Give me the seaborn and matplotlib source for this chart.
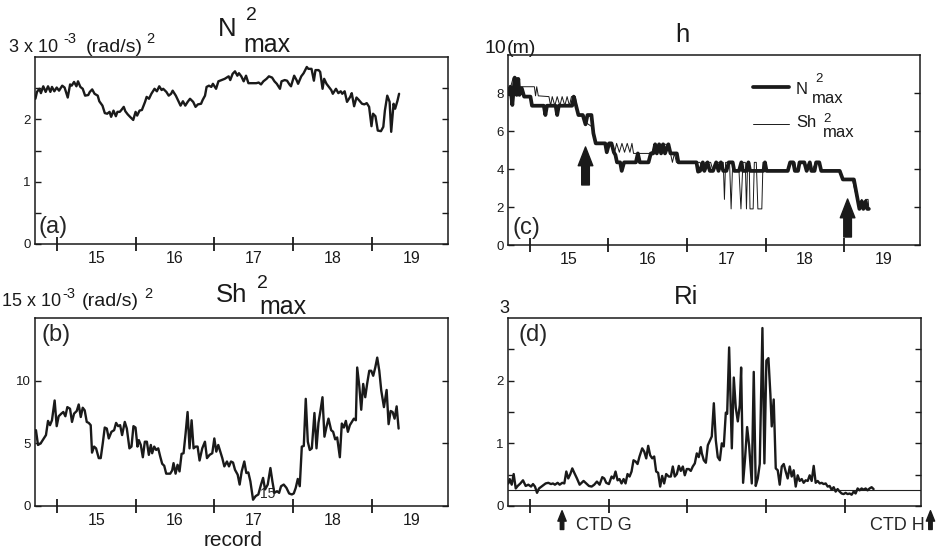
import numpy as np
import pandas as pd
import matplotlib
matplotlib.use("Agg")
import matplotlib.pyplot as plt
import seaborn as sns

sns.set_theme(style="ticks")
plt.rcParams['font.family'] = ['Liberation Sans', 'DejaVu Sans']

# ---------------- data (record axis: label "15" sits at 15, day ticks at x.5) -------------
N2_X = [14.23,14.25,14.28,14.30,14.33,14.36,14.39,14.42,14.44,14.47,14.50,14.53,14.57,14.60,14.64,14.67,14.69,14.72,14.75,14.77,
        14.80,14.83,14.86,14.90,14.92,14.95,14.98,15.02,15.04,15.08,15.11,15.14,15.17,15.19,15.22,15.25,15.27,15.30,15.32,15.35,
        15.37,15.40,15.43,15.47,15.50,15.52,15.55,15.58,15.62,15.64,15.67,15.70,15.74,15.77,15.80,15.83,15.85,15.89,15.92,15.95,
        15.97,16.01,16.04,16.07,16.10,16.13,16.16,16.19,16.23,16.26,16.29,16.33,16.35,16.38,16.40,16.43,16.46,16.48,16.52,16.55,
        16.59,16.63,
        16.68,16.70,16.73,16.76,16.79,16.81,16.84,16.87,16.90,16.93,16.96,16.99,17.03,17.06,17.09,17.12,17.16,17.19,17.23,17.26,
        17.29,17.33,17.35,17.39,17.42,17.45,17.47,17.51,17.54,17.56,17.60,17.63,17.67,17.69,17.73,17.76,17.78,17.82,17.84,17.87,
        17.89,17.92,17.95,17.98,18.00,18.04,18.07,18.10,18.12,18.15,18.18,18.22,18.24,18.27,18.30,18.33,18.37,18.40,18.43,18.46,
        18.49,18.51,18.54,18.57,18.61,18.64,18.66,18.69,18.72,18.74,18.77,18.79,18.82,18.84]
N2_V = [2.33,2.44,2.49,2.42,2.53,2.44,2.53,2.44,2.52,2.45,2.51,2.46,2.54,2.51,2.35,2.56,2.54,2.60,2.53,2.61,
        2.52,2.49,2.38,2.39,2.44,2.48,2.41,2.38,2.29,2.22,2.10,2.09,2.12,2.04,2.14,2.05,2.12,2.12,2.15,2.20,
        2.13,2.08,2.04,1.99,2.12,2.06,2.14,2.15,2.28,2.36,2.33,2.41,2.49,2.45,2.53,2.47,2.49,2.44,2.38,2.41,
        2.46,2.38,2.30,2.22,2.29,2.22,2.28,2.33,2.28,2.20,2.24,2.25,2.31,2.38,2.52,2.54,2.52,2.57,2.49,2.61,
        2.63,2.65,
        2.69,2.63,2.73,2.77,2.70,2.74,2.69,2.61,2.70,2.58,2.58,2.58,2.58,2.59,2.56,2.61,2.65,2.69,2.67,2.61,
        2.57,2.49,2.61,2.63,2.62,2.56,2.53,2.70,2.63,2.57,2.69,2.74,2.84,2.81,2.81,2.62,2.79,2.79,2.76,2.49,
        2.65,2.57,2.52,2.47,2.41,2.49,2.42,2.45,2.41,2.45,2.28,2.36,2.42,2.21,2.35,2.31,2.25,2.24,2.26,2.20,
        1.89,2.09,2.05,1.82,1.81,1.88,2.14,2.38,2.28,1.80,2.25,2.17,2.30,2.41]

SH2_X = [14.220,14.237,14.263,14.297,14.330,14.364,14.390,14.415,14.440,14.474,14.500,14.525,14.559,14.584,14.610,14.635,14.669,14.694,14.720,14.754,
         14.779,14.805,14.830,14.855,14.881,14.906,14.931,14.948,14.974,14.999,15.033,15.058,15.084,15.109,15.135,15.160,15.194,15.228,15.253,15.279,
         15.304,15.329,15.363,15.389,15.422,15.448,15.473,15.499,15.524,15.541,15.566,15.592,15.617,15.643,15.668,15.693,15.710,15.736,15.761,15.787,
         15.812,15.837,15.863,15.888,15.914,15.939,15.964,15.981,16.007,16.032,16.057,16.083,16.108,16.134,16.159,16.184,16.210,16.235,16.261,16.286,
         16.311,16.345,16.379,16.405,16.438,16.472,16.498,16.523,16.548,16.574,16.599,16.625,
         16.658,16.684,16.709,16.735,16.760,16.794,16.819,16.845,16.878,16.904,16.929,16.955,16.989,17.022,17.056,17.090,17.116,17.141,17.175,17.209,
         17.234,17.259,17.293,17.319,17.344,17.378,17.412,17.446,17.480,17.505,17.530,17.556,17.581,17.607,17.632,17.657,17.683,17.708,17.734,17.767,
         17.793,17.818,17.844,17.869,17.894,17.920,17.945,17.979,18.004,18.030,18.055,18.089,18.114,18.140,18.165,18.191,18.216,18.241,18.267,18.292,
         18.309,18.335,18.360,18.385,18.411,18.436,18.462,18.487,18.512,18.538,18.563,18.589,18.614,18.648,18.682,18.707,18.733,18.758,18.783,18.809,
         18.834]
SH2_V = [5.92,6.05,4.87,5.0,5.32,5.66,6.79,6.45,6.84,8.42,6.37,7.16,7.37,7.5,7.16,7.89,7.76,6.71,7.37,7.58,
         8.1,7.1,7.84,7.63,6.71,6.63,6.45,4.26,4.74,4.6,3.82,3.82,5.0,6.26,6.18,5.39,5.92,6.05,6.63,6.37,
         6.45,5.66,6.71,6.18,4.6,4.74,6.37,6.26,4.74,5.26,4.87,3.89,5.13,5.13,4.08,4.87,4.21,4.74,4.47,4.6,
         3.95,3.37,3.21,2.58,2.58,2.58,2.84,3.42,2.58,3.29,2.76,4.16,4.21,5.79,7.5,4.6,6.84,4.6,4.74,4.74,
         3.63,4.6,5.13,3.82,4.08,4.21,5.39,4.34,4.87,4.34,3.82,3.16,
         3.55,3.16,3.55,3.47,2.89,2.5,1.71,2.76,3.55,2.63,2.68,1.97,0.5,0.79,0.92,1.71,2.24,1.32,1.71,3.03,
         1.97,1.05,1.18,1.05,1.58,1.71,1.45,1.0,0.92,1.0,1.45,2.16,1.58,4.74,4.79,8.55,5.13,4.47,4.6,7.42,
         4.6,6.63,7.63,8.68,5.53,6.32,6.97,6.05,5.92,5.32,5.47,3.89,6.58,6.26,6.79,5.92,6.45,6.71,6.97,6.84,
         11.05,9.61,7.68,9.74,8.68,9.79,10.79,10.79,10.39,11.05,11.84,10.79,9.21,7.89,9.26,6.53,7.58,7.5,6.97,7.95,
         6.18]

H_N_X = [14.24,14.255,14.28,14.30,14.31,14.335,14.356,14.37,14.40,14.43,14.51,14.53,14.68,14.70,14.72,14.83,14.85,14.87,15.04,15.06,
         15.09,15.12,15.175,15.21,15.235,15.285,15.31,15.34,15.46,15.48,15.51,15.54,15.57,15.59,15.61,15.65,15.67,15.70,15.85,15.875,
         15.90,16.01,16.04,16.07,16.095,16.116,16.145,16.17,16.196,16.22,16.263,16.29,16.37,16.39,16.62,16.64,16.665,16.70,16.72,16.76,
         16.79,16.83,16.87,16.90,16.93,16.96,17.00,17.03,17.08,17.10,17.16,17.19,17.21,17.255,17.28,17.30,17.47,17.49,17.51,17.78,
         17.81,17.85,17.87,17.91,17.93,17.99,18.02,18.06,18.08,18.12,18.14,18.18,18.205,18.44,18.48,18.62,18.69,18.72,18.74,18.77,
         18.79,18.81]
H_N_V = [7.93,8.33,7.37,8.33,8.81,7.9,8.74,7.9,8.25,7.81,7.81,7.33,7.33,6.84,7.33,7.33,6.84,7.33,7.33,7.81,
         7.33,6.84,6.84,6.35,6.84,6.84,5.88,5.35,5.35,4.88,5.35,5.35,4.88,4.74,4.35,4.35,3.9,4.35,4.35,4.82,
         4.35,4.35,4.82,4.82,5.3,4.82,5.3,4.82,5.3,4.82,5.3,4.82,4.82,4.35,4.35,3.86,3.9,4.35,3.9,4.35,
         3.9,3.9,4.35,3.9,4.35,3.9,3.9,4.35,4.35,3.9,3.9,4.35,3.9,3.9,4.35,3.9,3.9,4.35,3.9,3.9,
         4.35,4.35,3.9,3.9,4.35,4.35,3.9,4.35,3.9,3.9,4.35,4.35,3.9,3.9,3.45,3.45,1.9,2.3,1.9,2.3,
         1.9,1.9]

H_S_X = [14.24,14.26,14.29,14.35,14.37,14.56,14.575,14.59,14.61,14.745,14.766,14.787,14.82,14.85,14.884,14.913,14.947,14.976,15.006,15.031,
         15.082,15.116,15.188,15.23,15.30,15.335,15.546,15.58,15.605,15.64,15.673,15.706,15.74,15.774,15.80,15.82,16.05,16.095,16.116,16.145,
         16.22,16.263,16.29,16.314,16.34,16.365,16.665,16.70,16.73,16.80,16.83,16.87,16.96,16.975,16.99,17.04,17.06,17.08,17.10,17.16,
         17.185,17.21,17.24,17.255,17.27,17.29,17.30,17.34,17.355,17.38,17.40,17.45,17.465,17.49,17.51,17.78,17.81,17.87,17.89,17.93,
         18.00,18.02,18.06,18.08,18.14,18.18,18.205,18.44,18.48,18.60,18.66,18.69,18.72,18.745,18.77,18.80,18.81]
H_S_V = [7.93,8.33,8.8,8.8,8.33,8.33,7.85,8.33,7.85,7.81,7.33,7.81,7.33,7.81,7.33,7.81,7.33,7.81,7.33,7.81,
         7.81,6.84,6.84,6.4,6.2,5.35,5.35,4.88,5.35,4.88,5.35,4.88,5.35,4.88,5.35,4.82,4.82,5.3,4.82,5.3,
         5.3,5.3,4.82,4.35,4.82,4.35,4.35,3.9,4.35,4.35,3.9,4.35,4.35,2.4,4.35,4.35,1.9,4.35,3.9,3.9,
         1.9,4.35,4.35,1.9,4.35,4.35,1.9,1.9,4.35,4.35,1.9,1.9,4.35,4.35,3.9,3.9,4.35,4.35,3.9,4.35,
         4.35,3.9,4.35,3.9,4.35,4.35,3.9,3.9,3.45,3.45,2.4,1.9,2.4,1.9,2.4,2.4,1.9]

RI_X = [14.230,14.247,14.272,14.297,14.323,14.348,14.382,14.415,14.449,14.483,14.517,14.542,14.567,14.593,14.618,14.660,14.702,14.736,14.770,14.795,
        14.820,14.854,14.880,14.913,14.939,14.964,14.989,15.015,15.040,15.065,15.099,15.133,15.158,15.183,15.217,15.251,15.285,15.318,15.352,15.386,
        15.420,15.445,15.470,15.504,15.538,15.563,15.588,15.614,15.639,15.664,15.690,15.715,15.740,15.766,15.791,15.816,15.842,15.867,15.892,15.926,
        15.951,15.977,16.002,16.027,16.053,16.078,16.103,16.128,16.154,16.179,16.204,16.230,16.263,16.289,16.314,16.339,16.365,16.390,16.415,16.441,
        16.466,16.491,16.517,16.542,16.567,16.593,16.618,16.643,16.669,
        16.682,16.707,16.733,16.758,16.783,16.808,16.834,16.859,16.884,16.910,16.935,16.960,16.986,17.003,17.028,17.062,17.087,17.112,17.138,17.163,
        17.180,17.205,17.230,17.256,17.281,17.315,17.340,17.365,17.391,17.416,17.450,17.475,17.500,17.526,17.551,17.568,17.593,17.619,17.644,17.669,
        17.695,17.720,17.745,17.770,17.796,17.821,17.846,17.872,17.897,17.922,17.948,17.973,17.998,18.024,18.049,18.074,18.100,18.125,18.150,18.176,
        18.201,18.226,18.252,18.277,18.302,18.327,18.353,18.378,18.403,18.429,18.454,18.479,18.505,18.530,18.555,18.581,18.606,18.631,18.657,18.682,
        18.707,18.733,18.758,18.783,18.808,18.834,18.859]
RI_V = [0.36,0.43,0.34,0.51,0.28,0.32,0.36,0.41,0.32,0.34,0.31,0.35,0.31,0.21,0.28,0.32,0.36,0.37,0.35,0.36,
        0.34,0.37,0.34,0.37,0.36,0.55,0.44,0.51,0.60,0.53,0.44,0.34,0.37,0.40,0.36,0.32,0.31,0.34,0.39,0.34,
        0.46,0.44,0.37,0.35,0.47,0.44,0.55,0.41,0.43,0.36,0.43,0.36,0.51,0.47,0.55,0.73,0.71,0.67,0.79,0.92,
        0.87,0.76,0.96,0.81,0.76,0.79,0.55,0.53,0.31,0.48,0.36,0.51,0.47,0.47,0.63,0.47,0.51,0.64,0.56,0.63,
        0.49,0.59,0.59,0.56,0.63,0.68,0.84,0.78,0.94,
        0.84,0.73,0.69,0.97,1.04,1.11,1.64,1.05,0.78,0.73,1.0,0.95,1.49,1.47,2.53,0.92,2.05,1.57,1.35,1.61,
        2.21,0.37,0.76,1.26,0.97,0.36,2.14,0.32,0.44,0.67,2.84,0.68,2.32,2.36,1.78,1.27,1.70,0.60,0.57,0.34,
        0.63,0.67,0.55,0.44,0.63,0.47,0.57,0.31,0.49,0.40,0.43,0.37,0.41,0.40,0.49,0.40,0.64,0.37,0.40,0.36,
        0.37,0.35,0.36,0.31,0.32,0.26,0.30,0.23,0.27,0.23,0.20,0.19,0.21,0.19,0.20,0.18,0.23,0.20,0.28,0.25,
        0.28,0.26,0.28,0.25,0.28,0.30,0.27]

RI_CRIT = 0.25
DAY_LABELS = [15, 16, 17, 18, 19]
DAY_TICKS = [14.5, 15.5, 16.5, 17.5, 18.5]
H_ARROWS_X = [15.21, 18.54]
H_ARROWS_Y = [(3.16, 5.16), (0.42, 2.42)]
CTD = [("CTD G", 14.91), ("CTD H", 19.58)]

# ---------------- layout helpers ----------------
W, H = 936, 551
fig = plt.figure(figsize=(W / 100, H / 100), dpi=100)


def add_ax(l, t, r, b):
    return fig.add_axes([l / W, 1 - b / H, (r - l) / W, (b - t) / H])


def ftxt(x, y, s, size, **kw):
    kw.setdefault('ha', 'left')
    kw.setdefault('va', 'baseline')
    fig.text(x / W, 1 - y / H, s, fontsize=size, color='k', **kw)


XLIM = (14.225, 19.46)


def style(ax, ylim, yticks, ylabels, xlabels=True):
    ax.set_xlim(*XLIM)
    ax.set_ylim(*ylim)
    for s in ax.spines.values():
        s.set_visible(True)
        s.set_linewidth(1.1)
        s.set_color('k')
    ax.set_xticks(DAY_TICKS)
    ax.set_xticklabels([])
    ax.set_xticks(DAY_LABELS, minor=True)
    ax.set_xticklabels([str(d) for d in DAY_LABELS] if xlabels else [], minor=True)
    ax.tick_params(axis='x', which='major', direction='inout', length=10, width=1.3,
                   bottom=True, top=False, colors='k')
    ax.tick_params(axis='x', which='minor', length=0, pad=5, labelsize=11.5, labelcolor='k')
    ax.set_yticks(yticks)
    ax.set_yticklabels(ylabels)
    ax.tick_params(axis='y', which='major', direction='in', length=4, width=1.0,
                   left=True, right=True, labelsize=9.5, pad=3, colors='k')
    ax.set_xlabel('')
    ax.set_ylabel('')
    ax.grid(False)
    ax.set_facecolor('white')


def draw(ax, x, y, lw):
    df = pd.DataFrame({'x': x, 'y': y})
    sns.lineplot(data=df, x='x', y='y', ax=ax, color='k', lw=lw,
                 estimator=None, sort=False, legend=False, zorder=3)


# ---------------- (a) N2max ----------------
axa = add_ax(35, 57, 448, 244)
draw(axa, N2_X, N2_V, 1.7)
style(axa, (0, 3), [0, 0.5, 1, 1.5, 2, 2.5], ['0', '', '1', '', '2', ''])
axa.text(0.008, 0.03, '(a)', transform=axa.transAxes, fontsize=17, ha='left', va='bottom')

# ---------------- (b) Sh2max ----------------
axb = add_ax(35, 318, 448, 506)
draw(axb, SH2_X, SH2_V, 1.7)
style(axb, (0, 15), [0, 5, 10], ['0', '5', '10'])
axb.text(0.015, 0.97, '(b)', transform=axb.transAxes, fontsize=17, ha='left', va='top')
axb.text(17.18, 0.95, '15', fontsize=10, ha='center', va='center', zorder=1)

# ---------------- (c) h ----------------
axc = add_ax(508, 55, 920, 245)
draw(axc, H_N_X, H_N_V, 2.7)
draw(axc, H_S_X, H_S_V, 0.7)
style(axc, (0, 10), [0, 2, 4, 6, 8], ['0', '2', '4', '6', '8'])
axc.text(0.012, 0.03, '(c)', transform=axc.transAxes, fontsize=17, ha='left', va='bottom')
for xa, (y0, y1) in zip(H_ARROWS_X, H_ARROWS_Y):
    axc.annotate('', xy=(xa, y1), xytext=(xa, y0),
                 arrowprops=dict(arrowstyle='simple,head_width=1.05,head_length=1.35,tail_width=0.55',
                                 color='k', shrinkA=0, shrinkB=0, mutation_scale=10), zorder=4)
# legend samples
axc.plot([0.595, 0.682], [0.832, 0.832], transform=axc.transAxes, color='k', lw=2.7)
axc.plot([0.595, 0.682], [0.637, 0.637], transform=axc.transAxes, color='k', lw=0.7)
ftxt(796, 94.5, 'N', 12)
ftxt(815, 82, '2', 9.5)
ftxt(812, 103, 'max', 12)
ftxt(796, 127, 'Sh', 12)
ftxt(823, 121.5, '2', 9.5)
ftxt(823, 137, 'max', 12)

# ---------------- (d) Ri ----------------
axd = add_ax(508, 318, 921, 506)
draw(axd, RI_X, RI_V, 1.7)
axd.axhline(RI_CRIT, color='#222222', lw=0.8, zorder=2)
style(axd, (0, 3), [0, 0.5, 1, 1.5, 2, 2.5], ['0', '', '1', '', '2', ''], xlabels=False)
axd.text(0.025, 0.97, '(d)', transform=axd.transAxes, fontsize=17, ha='left', va='top')
for label, xc in CTD:
    axd.annotate('', xy=(xc, -0.025), xytext=(xc, -0.125),
                 xycoords=('data', 'axes fraction'), textcoords=('data', 'axes fraction'),
                 arrowprops=dict(arrowstyle='simple,head_width=0.6,head_length=0.75,tail_width=0.25',
                                 color='k', shrinkA=0, shrinkB=0, mutation_scale=10),
                 annotation_clip=False)
axd.text(CTD[0][1] + 0.18, -0.13, CTD[0][0], transform=axd.get_xaxis_transform(),
         fontsize=13, ha='left', va='baseline', clip_on=False)
axd.text(CTD[1][1] - 0.07, -0.13, CTD[1][0], transform=axd.get_xaxis_transform(),
         fontsize=13, ha='right', va='baseline', clip_on=False)

# ---------------- titles & unit labels ----------------
# (a)
ftxt(218, 36.5, 'N', 18.5)
ftxt(246, 20, '2', 14)
ftxt(243, 51.5, 'max', 18)
ftxt(9, 51.5, '3 x 10', 13)
ftxt(63, 43, '-3', 10.5)
ftxt(86, 51.5, '(rad/s)', 14)
ftxt(146, 43, '2', 10.5)
# (b)
ftxt(216, 302.5, 'Sh', 18.5)
ftxt(257, 288, '2', 14)
ftxt(259, 314, 'max', 18)
ftxt(2, 306, '15 x 10', 13)
ftxt(62, 298, '-3', 10.5)
ftxt(82, 306, '(rad/s)', 14)
ftxt(144, 298, '2', 10.5)
ftxt(233, 546, 'record', 15, ha='center')
# (c)
ftxt(675, 42, 'h', 18.5)
ftxt(484, 53, '10', 14)
ftxt(507, 53, '(m)', 14)
# (d)
ftxt(674, 304, 'Ri', 18.5)
ftxt(499, 313, '3', 13)

fig.savefig('out.png', dpi=100, facecolor='white')
